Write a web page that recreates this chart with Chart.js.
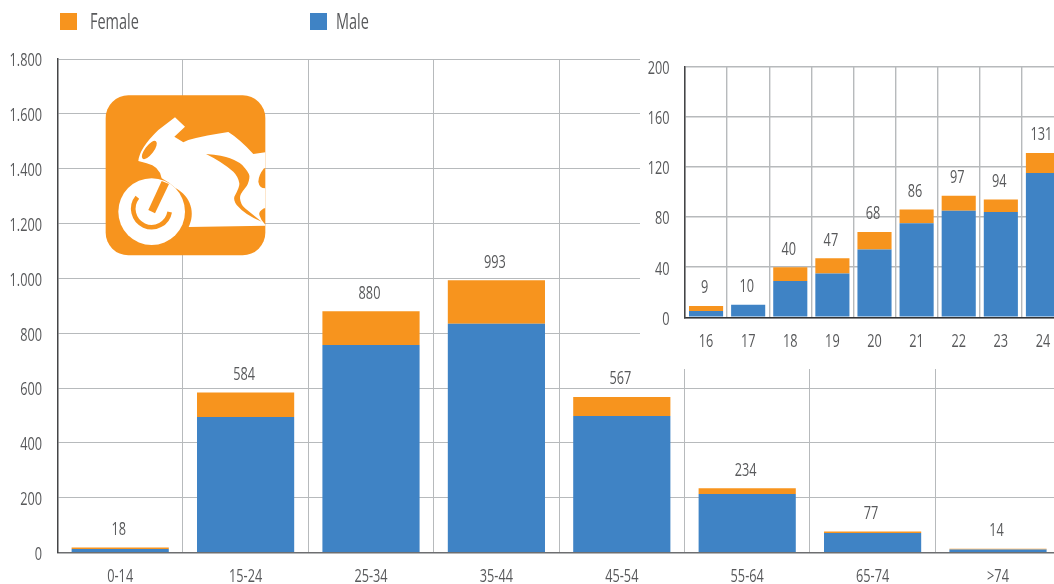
<!DOCTYPE html>
<html>
<head>
<meta charset="utf-8">
<script src="https://cdn.jsdelivr.net/npm/chart.js@4"></script>
<style>
  html, body { margin: 0; padding: 0; background: #fff; overflow: hidden; width: 1054px; height: 584px; }
  #mainWrap { position: absolute; left: 0; top: 0; width: 1100px; height: 584px; }
  #insetWrap { position: absolute; left: 640px; top: 50px; width: 460px; height: 319px; background: #fff; }
  canvas { display: block; }
  #legend i { position: absolute; top: 13px; width: 17px; height: 17px; }
  #legend span { position: absolute; top: 8px; font: 21px "Open Sans", sans-serif; line-height: 27px; color: #58595b; transform: scaleX(0.69); transform-origin: left center; white-space: nowrap; }
  #logo { position: absolute; left: 90px; top: 80px; width: 190px; height: 190px; }
</style>
</head>
<body>
<div id="mainWrap"><canvas id="mainChart" width="1100" height="584"></canvas></div>
<div id="insetWrap"><canvas id="insetChart" width="460" height="319"></canvas></div>
<div id="legend"></div>
<svg id="logo" viewBox="0 0 570 570">
  <rect x="47" y="46" width="479" height="480" rx="68" fill="#f7941e"/>
  <path fill="#fff" d="M255 112 L285 140 L253 170 L280 187 L295 180 Q350 165 415 156 Q450 178 490 222 L526 217 L526 265 L522 265 Q506 285 505 305 Q508 325 526 325 L526 385 L522 385 Q505 395 508 405 Q512 420 526 434 L526 437 L296 441 C316 400 305 350 255 323 L237 308 L215 295 Q208 258 170 250 L145 243 Q148 205 205 150 Z"/>
  <ellipse cx="178" cy="210" rx="13" ry="33" transform="rotate(37 178 210)" fill="#f7941e"/>
  <path fill="#f7941e" d="M348 222 Q400 226 420 235 Q455 248 465 265 Q482 285 478 295 Q475 315 465 325 Q448 345 450 355 Q452 375 465 385 L515 425 Q465 405 440 375 Q430 360 433 350 Q450 320 448 310 Q445 290 430 275 Q395 245 348 222 Z"/>
  <circle cx="185" cy="395" r="100" fill="#fff"/>
  <path fill="#f7941e" d="M215 303 L237 312 L195 400 L175 390 Z"/>
  <path fill="none" stroke="#f7941e" stroke-width="14" d="M142 352 A55 55 0 1 0 239 396"/>
</svg>
<script>
const ageLabels = ["0-14", "15-24", "25-34", "35-44", "45-54", "55-64", "65-74", ">74"];
const ageMale = [13, 494, 757, 834, 498, 213, 71, 11];
const ageFemale = [5, 90, 123, 159, 69, 21, 6, 3];

const youngLabels = ["16", "17", "18", "19", "20", "21", "22", "23", "24"];
const youngMale = [5, 10, 29, 35, 54, 75, 85, 84, 115];
const youngFemale = [4, 0, 11, 12, 14, 11, 12, 10, 16];

const legendNames = ["Female", "Male"];
const orange = "#f7941e";
const blue = "#3f83c5";
const textColor = "#58595b";
const gridColor = "#b7babc";
const fontFamily = '"Open Sans", sans-serif';
const squeeze = 0.67; // no condensed face installed, so narrow the text by hand

function drawNarrow(ctx, text, x, y, align) {
  ctx.save();
  ctx.translate(x, y);
  ctx.scale(squeeze, 1);
  ctx.textAlign = align;
  ctx.textBaseline = "middle";
  ctx.fillText(text, 0, 0);
  ctx.restore();
}

// tick labels and totals above the stacks
const chartTexts = {
  id: "chartTexts",
  afterDraw(chart) {
    const ctx = chart.ctx;
    const area = chart.chartArea;
    ctx.save();
    ctx.font = "19px " + fontFamily;
    ctx.fillStyle = textColor;
    chart.scales.y.ticks.forEach((tick, i) => {
      drawNarrow(ctx, tick.label, area.left - 15.5, chart.scales.y.getPixelForTick(i) + 2, "right");
    });
    chart.scales.x.ticks.forEach((tick, i) => {
      drawNarrow(ctx, tick.label, chart.scales.x.getPixelForTick(i), area.bottom + 24, "center");
    });
    chart.getDatasetMeta(1).data.forEach((bar, i) => {
      const total = chart.data.datasets[0].data[i] + chart.data.datasets[1].data[i];
      drawNarrow(ctx, String(total), bar.x - 1.5, bar.y - 18, "center");
    });
    ctx.restore();
  },
};

function makeChart(id, labels, male, female, yMax, yStep, padding, tickFormat, barPct, gridWidth, xBorder) {
  return new Chart(document.getElementById(id), {
    type: "bar",
    data: {
      labels: labels,
      datasets: [
        { label: "Male", data: male, backgroundColor: blue, barPercentage: barPct, categoryPercentage: 1 },
        { label: "Female", data: female, backgroundColor: orange, barPercentage: barPct, categoryPercentage: 1 },
      ],
    },
    options: {
      responsive: false,
      animation: false,
      layout: { padding: padding },
      plugins: { legend: { display: false }, tooltip: { enabled: false } },
      scales: {
        x: {
          stacked: true,
          grid: { color: gridColor, lineWidth: gridWidth, drawTicks: false },
          border: { color: xBorder, width: 1.5, z: 1 },
          ticks: { display: false },
          afterFit(scale) { scale.height = 0; },
        },
        y: {
          stacked: true,
          min: 0,
          max: yMax,
          grid: { color: gridColor, lineWidth: gridWidth, drawTicks: false },
          border: { color: "#444547", width: 1.5, z: 1 },
          ticks: { display: false, stepSize: yStep, callback: tickFormat },
          afterFit(scale) { scale.width = 0; },
        },
      },
    },
    plugins: [chartTexts],
  });
}

// thousands separator is a dot in the source
const dotted = (v) => String(v).replace(/\B(?=(\d{3})+$)/g, ".");

makeChart("mainChart", ageLabels, ageMale, ageFemale, 1800, 200,
  { left: 57.5, right: 39.3, top: 59, bottom: 31.5 }, dotted, 0.775, 1, "#6d6e70");
makeChart("insetChart", youngLabels, youngMale, youngFemale, 200, 40,
  { left: 45, right: 36, top: 16.5, bottom: 51.7 }, (v) => String(v), 0.81, 1.4, "#333436");

const legendBox = document.getElementById("legend");
const legendColors = [orange, blue];
const swatchLefts = [60, 310];
const nameLefts = [90, 336];
legendNames.forEach((name, i) => {
  const swatch = document.createElement("i");
  swatch.style.left = swatchLefts[i] + "px";
  swatch.style.background = legendColors[i];
  const text = document.createElement("span");
  text.style.left = nameLefts[i] + "px";
  text.textContent = name;
  legendBox.appendChild(swatch);
  legendBox.appendChild(text);
});
</script>
</body>
</html>
